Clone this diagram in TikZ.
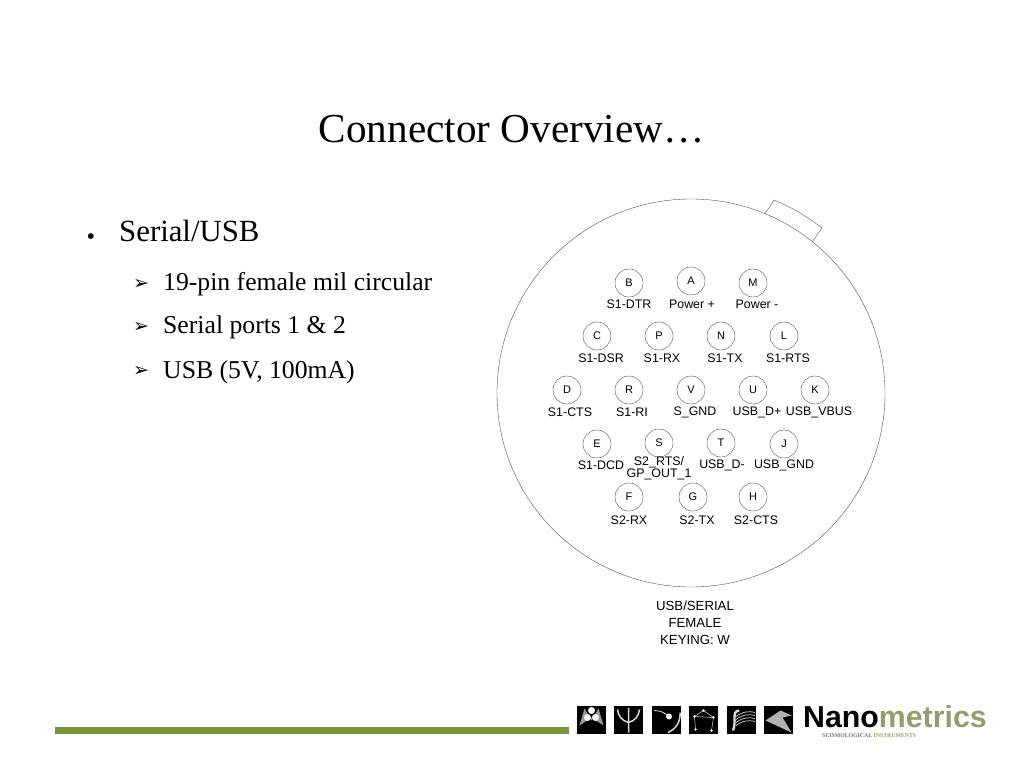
\documentclass[tikz,border=0pt]{standalone}
\usepackage{fontspec}
\setmainfont{Liberation Serif}
\setsansfont{Liberation Sans}
\newfontfamily\symbfont{DejaVu Sans}
\usetikzlibrary{positioning}
\definecolor{rulegreen}{RGB}{119,147,60}
\definecolor{logoolive}{RGB}{150,156,108}
\tikzset{
  pinbox/.style={draw=black!75, line width=0.35pt, circle, inner sep=0pt, minimum size=28pt, font=\sffamily\fontsize{11}{11}\selectfont},
  pinlabel/.style={inner sep=0pt, yshift=-0.2pt, align=center, font=\sffamily\fontsize{12.4}{12.4}\selectfont},
  headtext/.style={inner sep=0pt, anchor=base west, font=\fontsize{30.8}{30.8}\selectfont},
  itemtext/.style={inner sep=0pt, anchor=base west, font=\fontsize{25.7}{25.7}\selectfont},
  itemmark/.style={inner sep=0pt, font=\symbfont\fontsize{19}{19}\selectfont},
  emblem/.style={fill=black, draw=none, minimum width=29pt, minimum height=28pt, inner sep=0pt},
  emblemline/.style={draw=white!85!black, line width=1.5pt},
}
\newcommand{\connpin}[4]
{
\node[pinbox] (#1) at (#2) {#1};
\node[pinlabel] (#1label) at (#4) {#3};
}
\begin{document}
\begin{tikzpicture}[x=1pt, y=-1pt]
  \useasboundingbox (0,0) rectangle (1023,767);

  \node[inner sep=0pt, font=\fontsize{41.2}{41.2}\selectfont] (title) at (511.5,129) {Connector Overview…};

  % left text
  \node[inner sep=0pt, font=\symbfont\fontsize{7.5}{7.5}\selectfont] (headmark) at (91,237) {●};
  \node[headtext] (head) at (119,242) {Serial/USB};
  \node[itemmark] (markone) at (141,284) {➢};
  \node[itemtext] (itemone) at (163,291) {19-pin female mil circular};
  \node[itemmark] (marktwo) at (141,327) {➢};
  \node[itemtext] (itemtwo) at (163,334) {Serial ports 1 \& 2};
  \node[itemmark] (markthree) at (141,371) {➢};
  \node[itemtext] (itemthree) at (163,378) {USB (5V, 100mA)};

  % shell
  \node[draw=black!75, line width=0.35pt, circle, inner sep=0pt, minimum size=388pt] (shell) at (691,393) {};
  \coordinate (keyA) at (765,214);
  \coordinate (keyB) at (774,200);
  \coordinate (keyC) at (822,228);
  \coordinate (keyD) at (812,242);
  \draw[black!65, line width=0.4pt] (keyA) -- (keyB) to[bend left=7] (keyC) -- (keyD);

  \connpin{B}{629,283}{S1-DTR}{629,304}
  \connpin{A}{691,281}{Power +}{692,304}
  \connpin{M}{753,283}{Power -}{757,304}

  \connpin{C}{597,336}{S1-DSR}{601,358}
  \connpin{P}{659,336}{S1-RX}{662,358}
  \connpin{N}{721,336}{S1-TX}{725,358}
  \connpin{L}{784,336}{S1-RTS}{788,358}

  \connpin{D}{567,390}{S1-CTS}{570,412}
  \connpin{R}{629,390}{S1-RI}{632,412}
  \connpin{V}{691,390}{S\_GND}{695,412}
  \connpin{U}{753,390}{USB\_D+}{757,412}
  \connpin{K}{815,390}{USB\_VBUS}{819,412}

  \connpin{E}{597,444}{S1-DCD}{601,465}
  \connpin{S}{659,443}{S2\_RTS/\\[0.2pt]GP\_OUT\_1}{659,468}
  \connpin{T}{721,443}{USB\_D-}{722,465}
  \connpin{J}{784,444}{USB\_GND}{784,465}

  \connpin{F}{629,497}{S2-RX}{629,520}
  \connpin{G}{693,497}{S2-TX}{697,520}
  \connpin{H}{753,497}{S2-CTS}{756,520}

  \node[inner sep=0pt, align=center, font=\sffamily\fontsize{13.2}{17}\selectfont] (keying) at (695,623) {USB/SERIAL\\FEMALE\\KEYING: W};

  % footer
  \fill[rulegreen] (55,727) rectangle (569,734);

  \node[emblem] (emblemA) at (591.5,719.5) {};
  \node[emblem] (emblemB) at (628.5,719.5) {};
  \node[emblem] (emblemC) at (666,719.5) {};
  \node[emblem] (emblemD) at (703.5,719.5) {};
  \node[emblem] (emblemE) at (741,719.5) {};
  \node[emblem] (emblemF) at (778.5,719.5) {};

  % trillium
  \fill[black!40!white] ([xshift=-12pt,yshift=-6pt]emblemA.center) -- ([yshift=2pt]emblemA.center) -- ([xshift=12pt,yshift=-6pt]emblemA.center) -- ([xshift=7pt,yshift=11pt]emblemA.center) -- ([yshift=-1pt]emblemA.center) -- ([xshift=-7pt,yshift=11pt]emblemA.center) -- cycle;
  \fill[white] ([yshift=9pt]emblemA.center) circle (3.5pt) ([xshift=-4pt,yshift=2pt]emblemA.center) circle (3.5pt) ([xshift=4pt,yshift=2pt]emblemA.center) circle (3.5pt);
  % trident
  \draw[emblemline] ([yshift=-13pt]emblemB.center) -- ([yshift=12pt]emblemB.center)
    ([xshift=-11pt,yshift=10pt]emblemB.center) to[bend right=35] ([yshift=-3pt]emblemB.center) to[bend right=35] ([xshift=11pt,yshift=10pt]emblemB.center);
  % comet
  \draw[emblemline, line width=0.8pt] ([xshift=-12pt,yshift=9pt]emblemC.center) to[bend left=20] ([xshift=3pt,yshift=3pt]emblemC.center);
  \draw[emblemline] ([xshift=2pt,yshift=-13pt]emblemC.center) to[bend right=35] ([xshift=14pt,yshift=7pt]emblemC.center);
  \fill[white] ([xshift=3pt,yshift=3pt]emblemC.center) circle (3pt);
  % constellation
  \draw[emblemline, line width=0.5pt] ([xshift=-9pt,yshift=3pt]emblemD.center) -- ([yshift=9pt]emblemD.center) -- ([xshift=10pt,yshift=2pt]emblemD.center) -- cycle
    ([xshift=-9pt,yshift=3pt]emblemD.center) -- ([xshift=-8pt,yshift=-10pt]emblemD.center)
    ([xshift=10pt,yshift=2pt]emblemD.center) -- ([xshift=8pt,yshift=-11pt]emblemD.center);
  \foreach \starx/\stary in {-9/3, 0/9, 10/2, -8/-10, 8/-11}
    \fill[white] ([xshift=\starx pt,yshift=\stary pt]emblemD.center) circle (1.4pt);
  % swan
  \draw[emblemline, line width=2.4pt] ([xshift=-2pt,yshift=9pt]emblemE.center) .. controls ([xshift=-10pt,yshift=8pt]emblemE.center) and ([xshift=-4pt,yshift=-2pt]emblemE.center) .. ([xshift=-8pt,yshift=-11pt]emblemE.center);
  \foreach \waveshift in {-3,0,3,6}
    \draw[emblemline, line width=0.7pt] ([xshift=-5pt,yshift=-\waveshift pt]emblemE.center) to[bend left=25] ([xshift=14pt,yshift=4pt-\waveshift pt]emblemE.center);
  % boat
  \fill[black!30!white] ([xshift=-13pt,yshift=-1pt]emblemF.center) -- ([xshift=13pt,yshift=-13pt]emblemF.center) -- ([xshift=4pt,yshift=2pt]emblemF.center) -- ([xshift=13pt,yshift=4pt]emblemF.center) -- ([xshift=2pt,yshift=9pt]emblemF.center) -- cycle;

  \node[inner sep=0pt, anchor=base west, font=\sffamily\bfseries\fontsize{30.3}{30.3}\selectfont] (logo) at (803,727) {Nano\textcolor{logoolive}{metrics}};
  \node[inner sep=0pt, anchor=base west, text=black!55, font=\bfseries\fontsize{5.8}{5.8}\selectfont] (logosub) at (822,737.5) {SEISMOLOGICAL \textcolor{logoolive}{INSTRUMENTS}};
\end{tikzpicture}
\end{document}
